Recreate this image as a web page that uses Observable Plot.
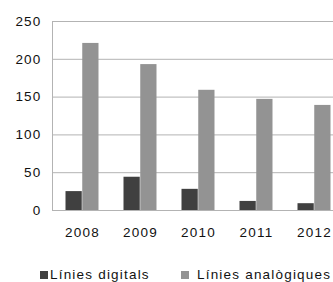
<!DOCTYPE html>
<html><head><meta charset="utf-8">
<script src="https://cdn.jsdelivr.net/npm/d3@7"></script>
<script src="https://cdn.jsdelivr.net/npm/@observablehq/plot@0.6"></script>
<style>
body{margin:0;background:#fff;font-family:"Liberation Sans",Arial,sans-serif;overflow:hidden;}
#c{width:333px;overflow:hidden;}
.leg{position:relative;height:32px;font-size:13.5px;letter-spacing:1.2px;color:#111;}
.sw{position:absolute;top:21px;width:8px;height:8px;}
.tx{position:absolute;top:17px;white-space:nowrap;line-height:16px;}
</style></head>
<body><div id="c"></div>
<script>
const years = ["2008","2009","2010","2011","2012"];
const digital = [25, 44, 28, 12, 9];
const analog = [221, 193, 159, 147, 139];
const seriesNames = ["Línies digitals","Línies analògiques"];
const colors = ["#404040","#939393"];
const yTicks = [0,50,100,150,200,250];

const dd = years.map((y,i)=>({year:y, v:digital[i]}));
const da = years.map((y,i)=>({year:y, v:analog[i]}));

const plot = Plot.plot({
  width: 333, height: 250,
  marginTop: 21, marginBottom: 40, marginLeft: 52, marginRight: 0,
  style: {fontFamily: '"Liberation Sans", Arial, sans-serif', fontSize: "13.5px", letterSpacing: "1.2px", color: "#111", overflow: "hidden"},
  x: {domain: years, range: [52, 344], padding: 0, label: null},
  y: {domain: [0,250], label: null},
  marks: [
    Plot.ruleY(yTicks.filter(t=>t>0), {stroke: "#b3b3b3", strokeOpacity: 1}),
    Plot.frame({anchor: "left", stroke: "#b3b3b3"}),
    Plot.barY(dd, {x: "year", y: "v", fill: colors[0], insetLeft: 12.5, insetRight: 29.25}),
    Plot.barY(da, {x: "year", y: "v", fill: colors[1], insetLeft: 29.25, insetRight: 12.5}),
    Plot.ruleY([0], {stroke: "#b3b3b3"}),
    Plot.axisY({ticks: yTicks, tickSize: 0, tickPadding: 11, fill: "#111"}),
    Plot.axisX({tickSize: 0, tickPadding: 17, fill: "#111"})
  ]
});
document.getElementById("c").appendChild(plot);

const leg = document.createElement("div");
leg.className = "leg";
const swLeft = [40, 181];
const txLeft = [50, 197];
seriesNames.forEach((n,i)=>{
  const sw = document.createElement("div"); sw.className="sw";
  sw.style.left = swLeft[i]+"px"; sw.style.background = colors[i];
  const t = document.createElement("div"); t.className="tx";
  t.style.left = txLeft[i]+"px"; t.textContent = n;
  leg.appendChild(sw); leg.appendChild(t);
});
document.getElementById("c").appendChild(leg);
</script></body></html>
